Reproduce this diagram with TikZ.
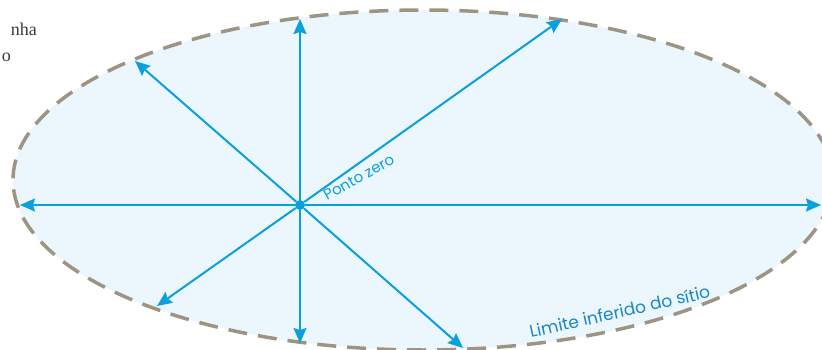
\documentclass[tikz,border=0pt]{standalone}
\usepackage{fontspec}
\usepackage{tikz}
\usetikzlibrary{arrows.meta,positioning}
\setmainfont{Liberation Serif}
\newfontfamily\labelfont{Poppins}
\definecolor{rayBlue}{HTML}{0AA0DC}
\definecolor{textBlue}{HTML}{1B86C6}
\definecolor{siteFill}{HTML}{EBF7FD}
\definecolor{siteEdge}{HTML}{9E9483}
\definecolor{inkGray}{HTML}{3A3A3A}

\begin{document}
\begin{tikzpicture}[x=1pt, y=-1pt,
  ray/.style={-{Stealth[length=15pt, width=13pt, inset=2pt]}, draw=rayBlue, line width=2pt},
  boundary/.style={draw=siteEdge, fill=siteFill, line width=3.5pt, dash pattern=on 19pt off 11pt},
  origin/.style={circle, fill=rayBlue, inner sep=0pt, minimum size=10pt},
  tag/.style={font=\labelfont\fontsize{15}{17}\selectfont, inner sep=0pt, anchor=base west},
  cutword/.style={font=\fontsize{18}{21}\selectfont, text=inkGray, inner sep=0pt, anchor=base east}
]
\useasboundingbox (0,0) rectangle (822,350);
\draw[boundary] (423,180) ellipse [x radius=410pt, y radius=170pt];
\node[cutword] (line1) at (37,36) {nha};
\node[cutword] (line2) at (11,62) {o};
\node[origin] (zero) at (300,205) {};
\foreach \name/\x/\y in {n/300/19, s/300/343, w/20/205, e/821/205, nw/135/61, ne/562/19, sw/157/306, se/463/348}
  \coordinate (\name) at (\x,\y);
\foreach \t in {n,s,w,e,nw,ne,sw,se} \draw[ray] (zero) -- (\t);
\node[tag, text=rayBlue, rotate=29] (zerotag) at (327,201) {Ponto zero};
\node[tag, text=textBlue, font=\labelfont\fontsize{17}{19}\selectfont, rotate=12.7] (sitetag) at (531,338) {Limite inferido do sítio};
\end{tikzpicture}
\end{document}
